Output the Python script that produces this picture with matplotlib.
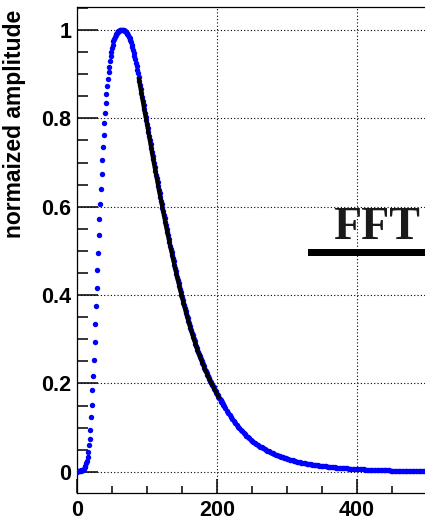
import numpy as np
import matplotlib
matplotlib.use("Agg")
import matplotlib.pyplot as plt
from matplotlib.patches import Rectangle
from matplotlib.ticker import MultipleLocator, FixedLocator, FixedFormatter

plt.rcParams['font.family'] = ['Liberation Sans', 'DejaVu Sans']

# Pulse samples: one per sample up to 209, every 2nd sample in the tail
sample_fine = np.arange(0, 210)
amp_fine = [
    0.000, 0.001, 0.001, 0.001, 0.002, 0.002, 0.003, 0.003, 0.004, 0.005,
    0.007, 0.010, 0.014, 0.019, 0.024, 0.034, 0.045, 0.060, 0.074, 0.094,
    0.123, 0.152, 0.185, 0.217, 0.253, 0.293, 0.334, 0.375, 0.416, 0.456,
    0.496, 0.535, 0.572, 0.607, 0.641, 0.674, 0.705, 0.735, 0.763, 0.789,
    0.813, 0.835, 0.855, 0.873, 0.889, 0.904, 0.917, 0.929, 0.940, 0.950,
    0.959, 0.967, 0.974, 0.980, 0.984, 0.988, 0.991, 0.993, 0.995, 0.997,
    0.998, 0.999, 1.000, 1.000, 1.000, 1.000, 1.000, 0.999, 0.998, 0.997,
    0.995, 0.993, 0.991, 0.988, 0.985, 0.981, 0.977, 0.972, 0.967, 0.961,
    0.955, 0.948, 0.941, 0.934, 0.926, 0.918, 0.910, 0.902, 0.893, 0.884,
    0.875, 0.866, 0.857, 0.848, 0.839, 0.830, 0.821, 0.812, 0.804, 0.796,
    0.787, 0.778, 0.769, 0.760, 0.751, 0.742, 0.733, 0.724, 0.715, 0.707,
    0.698, 0.689, 0.681, 0.672, 0.664, 0.655, 0.647, 0.638, 0.630, 0.622,
    0.614, 0.606, 0.598, 0.590, 0.582, 0.574, 0.566, 0.558, 0.550, 0.543,
    0.535, 0.527, 0.520, 0.512, 0.505, 0.498, 0.490, 0.483, 0.476, 0.469,
    0.462, 0.455, 0.448, 0.441, 0.434, 0.428, 0.421, 0.414, 0.408, 0.401,
    0.395, 0.389, 0.383, 0.377, 0.371, 0.365, 0.359, 0.353, 0.347, 0.342,
    0.336, 0.331, 0.325, 0.320, 0.315, 0.310, 0.305, 0.300, 0.295, 0.290,
    0.285, 0.281, 0.276, 0.272, 0.267, 0.263, 0.259, 0.255, 0.251, 0.247,
    0.243, 0.239, 0.235, 0.231, 0.228, 0.224, 0.220, 0.217, 0.213, 0.210,
    0.206, 0.203, 0.200, 0.197, 0.194, 0.191, 0.188, 0.185, 0.182, 0.179,
    0.176, 0.173, 0.170, 0.168, 0.165, 0.162, 0.159, 0.157, 0.154, 0.152,
]
sample_tail = np.arange(210, 500, 2)
amp_tail = [
    0.1490, 0.1435, 0.1382, 0.1331, 0.1281, 0.1234, 0.1188, 0.1144, 0.1102, 0.1061,
    0.1022, 0.0984, 0.0948, 0.0913, 0.0879, 0.0846, 0.0815, 0.0785, 0.0756, 0.0728,
    0.0701, 0.0677, 0.0654, 0.0632, 0.0610, 0.0590, 0.0570, 0.0550, 0.0531, 0.0513,
    0.0496, 0.0479, 0.0463, 0.0447, 0.0432, 0.0417, 0.0403, 0.0389, 0.0376, 0.0363,
    0.0351, 0.0339, 0.0327, 0.0316, 0.0305, 0.0295, 0.0285, 0.0275, 0.0266, 0.0257,
    0.0248, 0.0240, 0.0231, 0.0223, 0.0216, 0.0208, 0.0202, 0.0196, 0.0190, 0.0184,
    0.0179, 0.0173, 0.0168, 0.0163, 0.0158, 0.0153, 0.0149, 0.0144, 0.0140, 0.0136,
    0.0132, 0.0128, 0.0124, 0.0120, 0.0117, 0.0113, 0.0110, 0.0106, 0.0103, 0.0100,
    0.0097, 0.0094, 0.0091, 0.0089, 0.0086, 0.0083, 0.0081, 0.0079, 0.0076, 0.0074,
    0.0072, 0.0070, 0.0067, 0.0065, 0.0063, 0.0062, 0.0060, 0.0058, 0.0056, 0.0054,
    0.0053, 0.0051, 0.0050, 0.0048, 0.0047, 0.0045, 0.0044, 0.0043, 0.0041, 0.0040,
    0.0039, 0.0038, 0.0037, 0.0035, 0.0034, 0.0033, 0.0032, 0.0031, 0.0030, 0.0029,
    0.0029, 0.0028, 0.0027, 0.0026, 0.0025, 0.0024, 0.0024, 0.0023, 0.0022, 0.0022,
    0.0021, 0.0020, 0.0020, 0.0019, 0.0018, 0.0018, 0.0017, 0.0017, 0.0016, 0.0016,
    0.0015, 0.0015, 0.0014, 0.0014, 0.0014,
]

# fitted range (black overlay)
fit_start, fit_end = 88, 204

x_ticks = [0, 200, 400]
y_ticks = [0, 0.2, 0.4, 0.6, 0.8, 1.0]
y_tick_labels = ["0", "0.2", "0.4", "0.6", "0.8", "1"]

samples = np.concatenate([sample_fine, sample_tail])
amps = np.concatenate([amp_fine, amp_tail])

fig = plt.figure(figsize=(4.25, 5.22), dpi=100)
ax = fig.add_axes([77 / 425, 1 - 493 / 522, 350 / 425, 486 / 522])

ax.plot(samples, amps, linestyle="none", marker="o", ms=3.9, mew=0,
        color="#0000ff", zorder=3)
sel = (sample_fine >= fit_start) & (sample_fine <= fit_end)
ax.plot(sample_fine[sel], np.array(amp_fine)[sel], color="black", lw=3.0,
        solid_capstyle="butt", zorder=4)

ax.set_xlim(0, 500)
ax.set_ylim(-0.048, 1.052)

ax.xaxis.set_major_locator(FixedLocator(x_ticks))
ax.xaxis.set_minor_locator(MultipleLocator(50))
ax.yaxis.set_major_locator(FixedLocator(y_ticks))
ax.yaxis.set_major_formatter(FixedFormatter(y_tick_labels))
ax.yaxis.set_minor_locator(MultipleLocator(0.05))

ax.tick_params(axis="both", which="both", direction="in", top=False, right=False,
               width=1.1, labelsize=15.5)
ax.tick_params(axis="y", which="major", length=15, pad=4)
ax.tick_params(axis="y", which="minor", length=8)
ax.tick_params(axis="x", which="major", length=10, pad=5)
ax.tick_params(axis="x", which="minor", length=5)
for lab in ax.get_xticklabels() + ax.get_yticklabels():
    lab.set_fontweight("bold")

for s in ax.spines.values():
    s.set_linewidth(0.9)

ax.set_axisbelow(True)
ax.grid(True, which="major", color="black", linestyle=(0, (1, 2)), linewidth=0.8)

ax.set_ylabel("normaized amplitude", fontsize=16.5, fontweight="bold", loc="top")
ax.yaxis.set_label_coords(-0.145, 0.995)

# legend-like label at the right
fig.text(333 / 425, 1 - 239 / 522, "FFT", family=["Liberation Serif", "DejaVu Serif"],
         fontweight="bold", fontsize=33, color="#1a1a1a", va="baseline", ha="left")
fig.patches.append(Rectangle((308 / 425, 1 - 256 / 522), 120 / 425, 7 / 522,
                             transform=fig.transFigure, facecolor="black",
                             edgecolor="none"))

fig.savefig("out.png", dpi=100)
